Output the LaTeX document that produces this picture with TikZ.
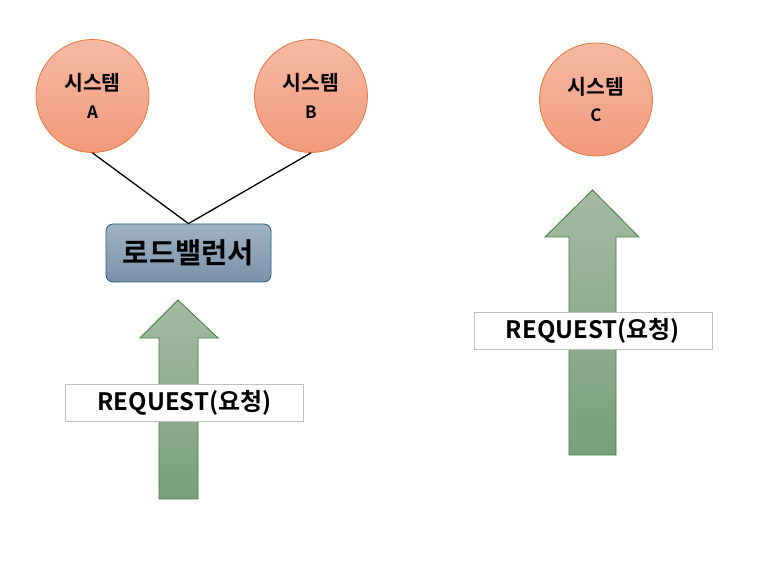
\documentclass[tikz,border=0pt]{standalone}
\usepackage{fontspec}
\setmainfont{Noto Sans CJK KR}[BoldFont={Noto Sans CJK KR Bold}]
\newfontfamily\krb{Noto Sans CJK KR Bold}
\begin{document}
\begin{tikzpicture}[x=1pt,y=-1pt,
  sysnode/.style={circle, minimum size=113pt, inner sep=0pt, draw=orangeEdge, line width=0.8pt,
    top color=sysTop, bottom color=sysBot, align=center},
  lbnode/.style={rectangle, rounded corners=7pt, minimum width=165pt, minimum height=58pt,
    draw=lbEdge, line width=0.8pt, top color=lbTop, bottom color=lbBot},
  reqnode/.style={rectangle, minimum width=238pt, minimum height=37pt, draw=gray!50, fill=white, line width=0.6pt},
  arrowshape/.style={draw=arEdge, line width=0.8pt, top color=arTop, bottom color=arBot},
  link/.style={draw=black, line width=1.3pt}
]
\definecolor{orangeEdge}{HTML}{E8763C}
\definecolor{sysTop}{HTML}{F5B9A3}
\definecolor{sysBot}{HTML}{F29A7B}
\definecolor{lbEdge}{HTML}{1F5F7F}
\definecolor{lbTop}{HTML}{A0B2C4}
\definecolor{lbBot}{HTML}{7A92AA}
\definecolor{arEdge}{HTML}{3E7D3E}
\definecolor{arTop}{HTML}{A4BAA2}
\definecolor{arBot}{HTML}{79A07A}
\useasboundingbox (0,0) rectangle (780,561);
\fill[white] (0,0) rectangle (780,561);

% systems
\node[sysnode] (sa) at (92.5,96) {\fontsize{20.5}{22}\krb 시스템\\[12pt]\fontsize{17}{18}\krb A};
\node[sysnode] (sb) at (311,96) {\fontsize{20.5}{22}\krb 시스템\\[12pt]\fontsize{17}{18}\krb B};
\node[sysnode] (sc) at (596,99.5) {\fontsize{20.5}{22}\krb 시스템\\[12pt]\fontsize{17}{18}\krb C};

% load balancer
\node[lbnode] (lb) at (188.5,253) {\fontsize{28.5}{30}\krb 로드밸런서};
\draw[link] (sa.south) -- (lb.north);
\draw[link] (sb.south) -- (lb.north);

% left arrow
\path[arrowshape] (178,300) -- (218,338) -- (198,338) -- (198,499) -- (159,499) -- (159,338) -- (140,338) -- cycle;
\node[reqnode] (rq1) at (184.5,402.5) {\fontsize{24}{26}\krb REQUEST(요청)};

% right arrow
\path[arrowshape] (592.5,190) -- (639,237) -- (616,237) -- (616,455) -- (569,455) -- (569,237) -- (545,237) -- cycle;
\node[reqnode] (rq2) at (593,330.5) {\fontsize{24}{26}\krb REQUEST(요청)};
\end{tikzpicture}
\end{document}
